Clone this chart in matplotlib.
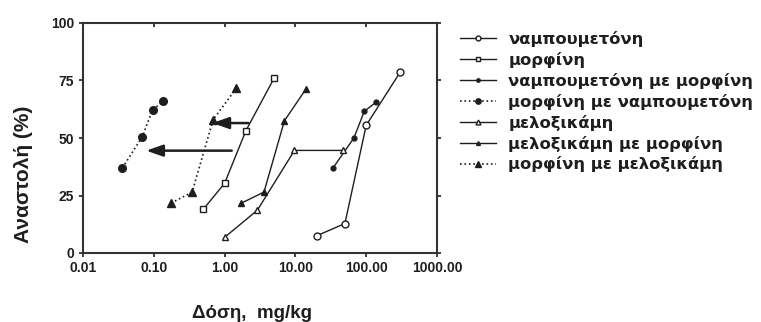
import numpy as np
import matplotlib
matplotlib.use('Agg')
import matplotlib.pyplot as plt

plt.rcParams['font.family'] = ['Liberation Sans', 'DejaVu Sans']
plt.rcParams['font.weight'] = 'bold'

# δεδομένα (δόση mg/kg, αναστολή %)
nab_x = [20, 50, 100, 300]
nab_y = [7.5, 12.8, 55.5, 78.5]
mor_x = [0.5, 1.0, 2.0, 5.0]
mor_y = [19, 30.3, 53.2, 76]
nab_mor_x = [34, 67, 94, 137]
nab_mor_y = [37, 50, 61.6, 65.5]
mor_nab_x = [0.036, 0.069, 0.096, 0.137]
mor_nab_y = [37, 50.6, 62.2, 66]
mel_x = [1.0, 2.9, 9.7, 47]
mel_y = [6.8, 18.6, 44.6, 44.6]
mel_mor_x = [1.73, 3.6, 7.0, 14.1]
mel_mor_y = [21.7, 26.5, 57.5, 71.3]
mor_mel_x = [0.175, 0.347, 0.69, 1.47]
mor_mel_y = [21.7, 26.4, 58, 71.7]

# βέλη (αρχή, τέλος, ύψος)
arrows = [(1.26, 0.078, 44.5), (2.17, 0.67, 56.5)]

labels = ['ναμπουμετόνη', 'μορφίνη', 'ναμπουμετόνη με μορφίνη',
          'μορφίνη με ναμπουμετόνη', 'μελοξικάμη', 'μελοξικάμη με μορφίνη',
          'μορφίνη με μελοξικάμη']
xticks = [0.01, 0.1, 1, 10, 100, 1000]
xticklabels = ['0.01', '0.10', '1.00', '10.00', '100.00', '1000.00']
yticks = [0, 25, 50, 75, 100]

c = '#1e1e1e'
fig = plt.figure(figsize=(7.61, 3.22), dpi=100)
ax = fig.add_axes([83 / 761, 1 - 253 / 322, (437 - 83) / 761, 230 / 322])

lw = 1.0
h = []
h += ax.plot(nab_x, nab_y, '-', color=c, lw=lw, marker='o', ms=5, mfc='white', mec=c, mew=1)
h += ax.plot(mor_x, mor_y, '-', color=c, lw=lw, marker='s', ms=5, mfc='white', mec=c, mew=1)
h += ax.plot(nab_mor_x, nab_mor_y, '-', color=c, lw=lw, marker='o', ms=3.5, mfc=c, mec=c)
h += ax.plot(mor_nab_x, mor_nab_y, ':', color=c, lw=1.2, marker='o', ms=5.5, mfc=c, mec=c)
h += ax.plot(mel_x, mel_y, '-', color=c, lw=lw, marker='^', ms=5, mfc='white', mec=c, mew=1)
h += ax.plot(mel_mor_x, mel_mor_y, '-', color=c, lw=lw, marker='^', ms=4, mfc=c, mec=c)
h += ax.plot(mor_mel_x, mor_mel_y, ':', color=c, lw=1.2, marker='^', ms=5.5, mfc=c, mec=c)

for x0, x1, yv in arrows:
    ax.annotate('', xy=(x1, yv), xytext=(x0, yv),
                arrowprops=dict(arrowstyle='-|>,head_length=1.0,head_width=0.35',
                                color=c, lw=1.8, shrinkA=0, shrinkB=0))

ax.set_xscale('log')
ax.set_xlim(0.01, 1000)
ax.set_ylim(0, 100)
ax.set_xticks(xticks)
ax.set_xticklabels(xticklabels)
ax.minorticks_off()
ax.set_yticks(yticks)
ax.tick_params(axis='both', labelsize=10, colors=c, length=3, width=1.2)
ax.tick_params(axis='x', pad=3)
ax.tick_params(right=True, direction='out')
for s in ax.spines.values():
    s.set_color('#333333')
    s.set_linewidth(1.5)

# πάνω άξονας με εσωτερικές υποδιαιρέσεις
top = ax.secondary_xaxis('top')
top.set_xticks(xticks)
top.minorticks_off()
top.tick_params(direction='in', length=3, width=1.2, colors=c, labeltop=False)
top.spines['top'].set_visible(False)

ax.set_ylabel('Αναστολή (%)', fontsize=15, fontweight='bold', color=c)
ax.yaxis.set_label_coords(-0.14, 0.34)
fig.text(252 / 761, 1 - 313 / 322, 'Δόση,  mg/kg', fontsize=13.5, fontweight='bold',
         color=c, ha='center', va='center')

fig.legend(h, labels, loc='upper left', bbox_to_anchor=(460 / 761, 1 - 31 / 322),
           frameon=False, prop={'family': 'DejaVu Sans', 'weight': 'bold', 'size': 11.8},
           handlelength=2.2, handletextpad=0.75, markerscale=0.7,
           labelspacing=0.3, borderpad=0, borderaxespad=0, labelcolor=c)

fig.savefig('out.png', dpi=100)
